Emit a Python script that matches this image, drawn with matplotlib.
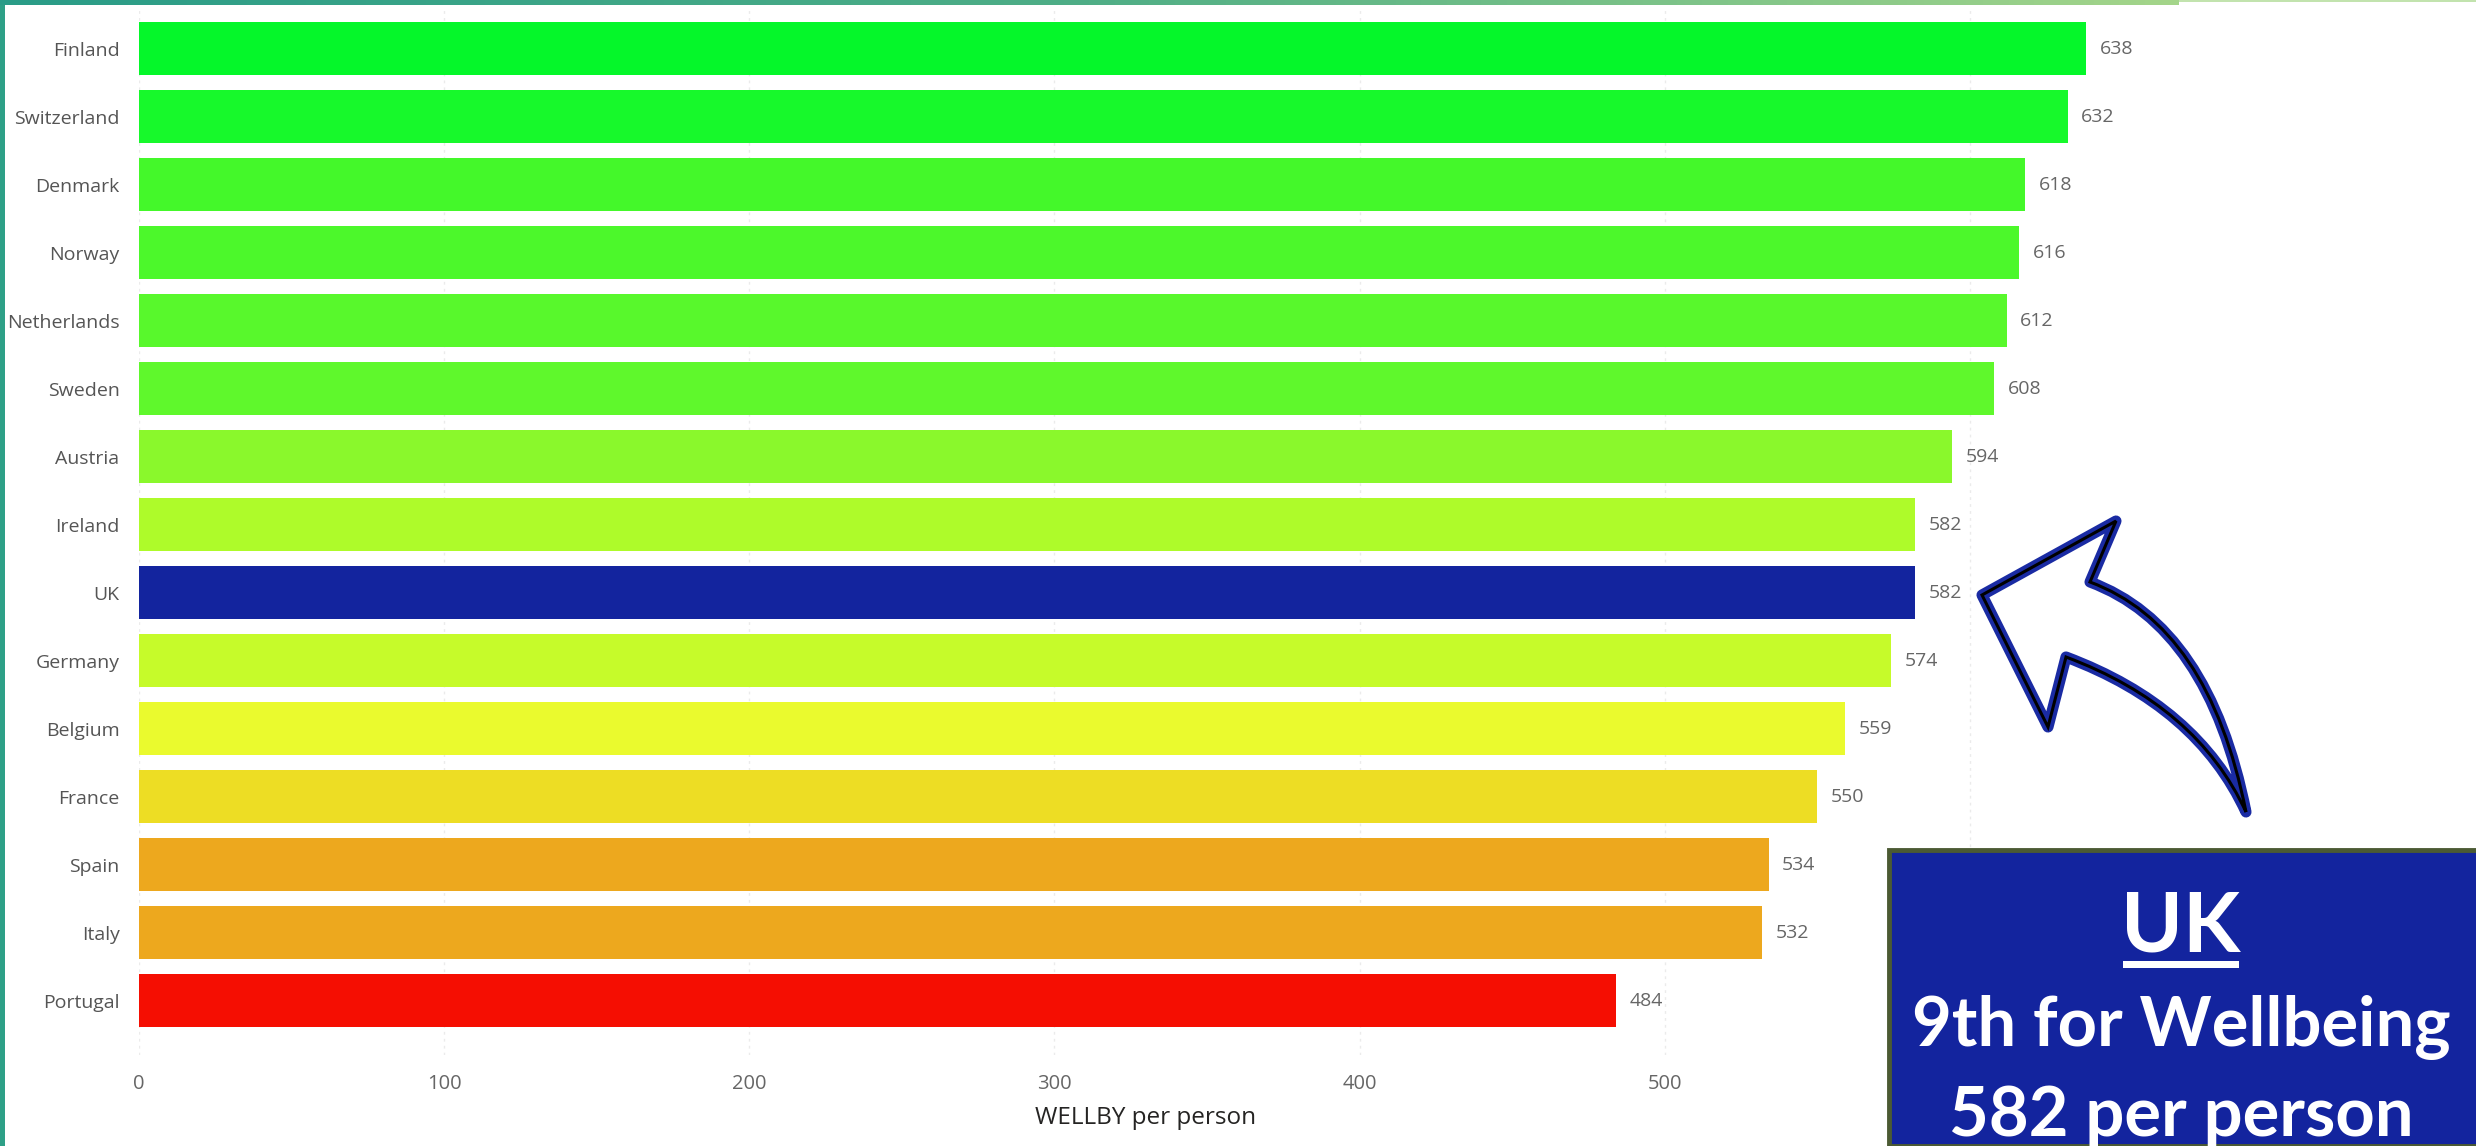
import matplotlib.pyplot as plt
import matplotlib.patches as mpatches
from matplotlib.path import Path
from matplotlib.colors import LinearSegmentedColormap
import numpy as np

# WELLBY per person by country
countries = ['Finland', 'Switzerland', 'Denmark', 'Norway', 'Netherlands', 'Sweden',
             'Austria', 'Ireland', 'UK', 'Germany', 'Belgium', 'France', 'Spain',
             'Italy', 'Portugal']
wellby = [638, 632, 618, 616, 612, 608, 594, 582, 582, 574, 559, 550, 534, 532, 484]
bar_colors = ['#05F72A', '#17F92B', '#44F82A', '#4CF82B', '#58F82C', '#5FF82C',
              '#8AF82C', '#AEFB2A', '#13249E', '#C6FB2A', '#EAFA2E', '#EDDD24',
              '#EDA81E', '#EDA81E', '#F50E02']
xticks = [0, 100, 200, 300, 400, 500]
gridlines = [0, 100, 200, 300, 400, 500, 600]

W, H = 2476, 1146
fig = plt.figure(figsize=(W / 100, H / 100), dpi=100)
fig.patch.set_facecolor('white')

def fx(px):
    return px / W

def fy(py):
    return 1 - py / H

# main bar axes
ax = fig.add_axes([fx(139), fy(1055), (2153 - 139) / W, (1055 - 8) / H])
y = np.arange(len(countries))
ax.barh(y, wellby, height=0.78, color=bar_colors, zorder=2)
ax.set_xlim(0, 660)
ax.set_ylim(len(countries) - 1 + 0.8, -0.6)
ax.set_yticks(y)
ax.set_yticklabels(countries, family='Open Sans', fontsize=14, color='#555555')
ax.set_xticks(xticks)
ax.set_xticklabels([str(t) for t in xticks], family='Open Sans', fontsize=14.5, color='#666666')
ax.tick_params(axis='both', length=0)
ax.tick_params(axis='y', pad=14)
ax.tick_params(axis='x', pad=14)
for s in ax.spines.values():
    s.set_visible(False)
for t in gridlines:
    ax.axvline(t, color='#ebebeb', lw=1.0, ls=(0, (2, 3)), zorder=1)
for yi, v in zip(y, wellby):
    ax.text(v + 4.5, yi, str(v), va='center', ha='left', family='Open Sans',
            fontsize=14, color='#666666')
ax.set_xlabel('WELLBY per person', family='Open Sans', fontsize=17.5,
              color='#252423', labelpad=8)

# frame accents: left stripe and top gradient band
lax = fig.add_axes([0, 0, fx(5), 1])
lax.set_facecolor('#2EA087')
lax.set_xticks([]); lax.set_yticks([])
for s in lax.spines.values():
    s.set_visible(False)

tax = fig.add_axes([0, fy(5), fx(2179), 5 / H])
grad = LinearSegmentedColormap.from_list('band', ['#2A9C88', '#4FAE86', '#A4D58A'])
tax.imshow(np.linspace(0, 1, 256)[None, :], aspect='auto', cmap=grad)
tax.axis('off')
fig.add_artist(mpatches.Rectangle((fx(2179), fy(2)), fx(W - 2179), 2 / H,
                                  transform=fig.transFigure, color='#C2E3AE', lw=0))

# curved arrow pointing at the UK bar
verts = [(1982, 595), (2116, 521), (2090, 582),
         (2209, 626), (2246, 812),
         (2197, 706), (2066, 657),
         (2048, 727), (1982, 595)]
codes = [Path.MOVETO, Path.LINETO, Path.LINETO,
         Path.CURVE3, Path.CURVE3,
         Path.CURVE3, Path.CURVE3,
         Path.LINETO, Path.CLOSEPOLY]
arrow = Path([(fx(a), fy(b)) for a, b in verts], codes)
fig.add_artist(mpatches.PathPatch(arrow, transform=fig.transFigure, facecolor='white',
                                  edgecolor='#1A2BA3', lw=8, joinstyle='round'))
fig.add_artist(mpatches.PathPatch(arrow, transform=fig.transFigure, facecolor='none',
                                  edgecolor='black', lw=2.2, joinstyle='miter'))

# callout box
box = mpatches.Rectangle((fx(1889), 0), fx(W - 1889) + 0.01, (H - 850) / H,
                         transform=fig.transFigure, facecolor='#13249E',
                         edgecolor='#4B5A33', lw=3.5)
fig.add_artist(box)
fig.text(fx(2181), fy(952), 'UK', ha='center', va='baseline', color='white',
         family='Lato', weight='bold', fontsize=60)
fig.add_artist(mpatches.Rectangle((fx(2123), fy(968)), fx(116), 7 / H,
                                  transform=fig.transFigure, color='white', lw=0))
fig.text(fx(2181), fy(1046), '9th for Wellbeing', ha='center', va='baseline',
         color='white', family='Lato', weight='bold', fontsize=49.5)
fig.text(fx(2181), fy(1136), '582 per person', ha='center', va='baseline',
         color='white', family='Lato', weight='bold', fontsize=49.5)

fig.savefig('out.png', dpi=100)
